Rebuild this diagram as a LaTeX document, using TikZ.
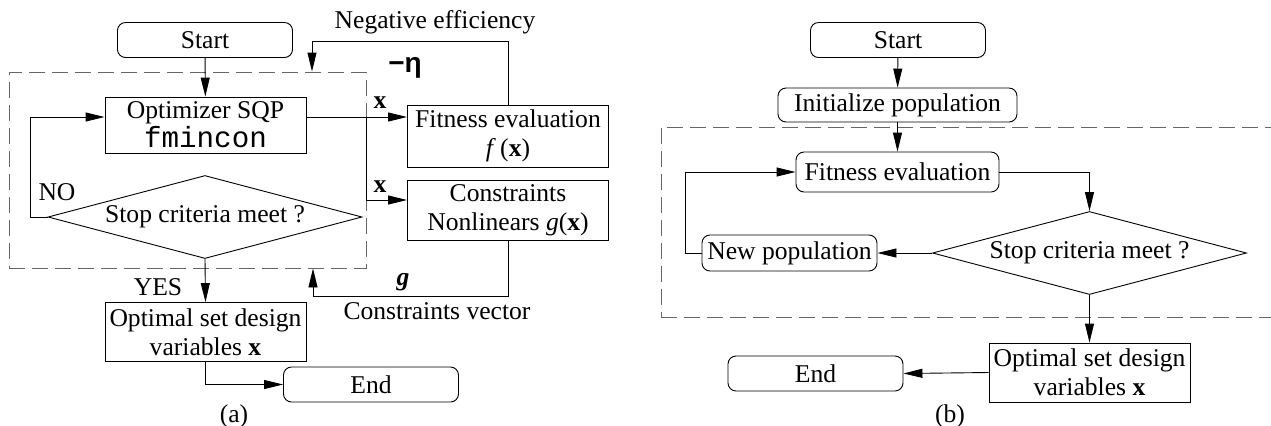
\documentclass[tikz,border=0pt]{standalone}
\usepackage{fontspec}
\setmainfont{Liberation Serif}
\setsansfont{Liberation Sans}
\setmonofont{Liberation Mono}
\usetikzlibrary{arrows.meta,positioning,shapes.geometric,fit,calc}

\begin{document}
\begin{tikzpicture}[
  x=0.5pt, y=-0.5pt,
  >={Triangle[length=9.5pt,width=4.5pt]},
  line width=0.45pt,
  every node/.style={font=\fontsize{12.8}{14.5}\selectfont},
  box/.style={draw, minimum width=100.5pt, inner sep=1pt, align=center},
  term/.style={draw, rounded corners=4pt, minimum width=87.5pt, minimum height=17.5pt, inner sep=1pt},
  dia/.style={draw, diamond, aspect=3.75, inner sep=0pt, minimum width=157pt, minimum height=41.5pt},
  loopbox/.style={draw=black!60, dash pattern=on 8pt off 3.5pt, inner sep=0pt},
  lbl/.style={inner sep=0pt}
]
\path[use as bounding box, clip] (0,0) rectangle (1271,425);

% (a) SQP loop
\node[term] (starta) at (205,40) {Start};
\node[box, minimum height=28pt] (sqp) at (205.5,125) {Optimizer SQP\\{\ttfamily\fontsize{14.6}{14}\selectfont fmincon}};
\node[dia] (stopa) at (205,217) {Stop criteria meet ?};
\node[box, minimum height=31pt] (fita) at (508,136) {Fitness evaluation\\\textit{f}\,(\textbf{x})};
\node[box, minimum height=30pt] (cons) at (508,210) {Constraints\\Nonlinears \textit{g}(\textbf{x})};
\node[box, minimum height=29.5pt] (opta) at (205.5,332) {Optimal set design\\variables \textbf{x}};
\node[term] (enda) at (371,384.5) {End};
\node[loopbox, fit={(9,72) (366,268)}] (loopa) {};

\draw[->] (starta) -- (sqp);
\draw[->] (stopa.west) -- ++(-17,0) |- ([yshift=4pt]sqp.west);
\node[lbl] at (57,192) {NO};
\draw[->] ([yshift=4pt]sqp.east) -- ([yshift=4pt]sqp.east -| fita.west);
\coordinate (split) at ([yshift=4pt]sqp.east -| loopa.east);
\draw[->] (split) |- ([yshift=5pt]cons.west);
\node[lbl] at (380,103) {\textbf{x}};
\node[lbl] at (380,187) {\textbf{x}};
\coordinate (etain) at (312,41);
\draw[->] (fita.north) |- (etain) -- (etain |- loopa.north);
\node[lbl] at (435,22) {Negative efficiency};
\node[lbl] at (405,68) {\sffamily\bfseries\fontsize{14}{14}\selectfont −η};
\coordinate (gin) at (313,296);
\draw[->] (cons.south) |- (gin) -- (gin |- loopa.south);
\node[lbl] at (403,282) {\textbf{\textit{g}}};
\node[lbl] at (437,311) {Constraints vector};
\draw[->] (stopa.south) -- (opta.north);
\node[lbl] at (158,287) {YES};
\draw[->] (opta.south) |- (enda.west);
\node[lbl] at (234,416) {(a)};

% (b) GA loop
\node[term] (startb) at (898,40) {Start};
\node[term, minimum width=119.5pt, minimum height=17pt] (init) at (897.5,105) {Initialize population};
\node[term, minimum width=101.5pt, minimum height=20pt] (fitb) at (897.5,172) {Fitness evaluation};
\node[dia] (stopb) at (1089.5,253) {Stop criteria meet ?};
\node[term, minimum height=18pt] (newpop) at (789.5,253) {New population};
\node[box, minimum height=29.5pt] (optb) at (1089.5,372.5) {Optimal set design\\variables \textbf{x}};
\node[term] (endb) at (815.5,373.5) {End};
\node[loopbox, fit={(661,127) (1290,317)}] (loopb) {};

\draw[->] (startb) -- (init);
\draw[->] (init) -- (fitb);
\draw[->] (fitb.east) -| (stopb.north);
\draw[->] (stopb.west) -- (newpop.east);
\draw[->] (newpop.west) -- ++(-16,0) |- (fitb.west);
\draw[->] (stopb.south) -- (optb.north);
\draw[->] (optb.west) -- (endb.east);
\node[lbl] at (950,416) {(b)};
\end{tikzpicture}
\end{document}
